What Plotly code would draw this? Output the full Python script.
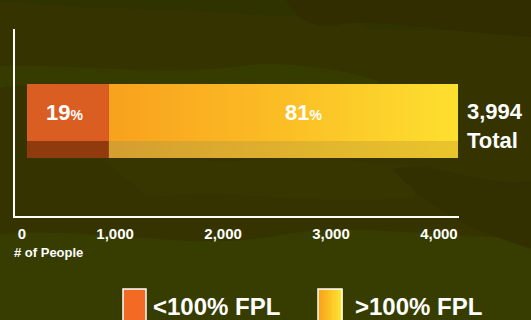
import plotly.graph_objects as go

# ---- data ----
categories = ["<100% FPL", ">100% FPL"]
percents = [19, 81]
total = 3994
values = [round(total * p / 100) for p in percents]  # 759, 3235
x_ticks = [0, 1000, 2000, 3000, 4000]
x_tick_labels = ["0", "1,000", "2,000", "3,000", "4,000"]
axis_title = "# of People"

FONT = "Liberation Sans, Arial, Helvetica, sans-serif"
BG = "#353400"

# plot area in pixels (for paper conversions of decorations)
L, R, T, B = 15, 459, 29, 216
def px(xp):
    return (xp - L) / (R - L)
def py(yp):
    return (B - yp) / (B - T)

BAR_W = 0.4
SHADE_W = 0.092

fig = go.Figure()

# under-100% segment (solid orange)
fig.add_trace(go.Bar(
    y=[0], x=[values[0]], base=[0], orientation="h", width=BAR_W,
    marker=dict(color="#DA5D22", line=dict(width=0)),
    name=categories[0], showlegend=False,
))
fig.add_trace(go.Bar(
    y=[0], x=[values[0]], base=[0], orientation="h", width=SHADE_W,
    offset=-BAR_W / 2,
    marker=dict(color="#8F3B0E", line=dict(width=0)),
    showlegend=False, hoverinfo="skip",
))

# over-100% segment (gradient yellow) drawn as filled polygon from data values
x0 = values[0]
x1 = values[0] + values[1]
fig.add_trace(go.Scatter(
    x=[x0, x1, x1, x0, x0],
    y=[-BAR_W / 2 + SHADE_W, -BAR_W / 2 + SHADE_W, BAR_W / 2, BAR_W / 2, -BAR_W / 2 + SHADE_W],
    mode="lines", line=dict(width=0), fill="toself",
    fillgradient=dict(type="horizontal",
                      colorscale=[[0, "#F8A11D"], [0.5, "#FBBE25"], [1, "#FDE02F"]]),
    name=categories[1], showlegend=False,
))
fig.add_trace(go.Scatter(
    x=[x0, x1, x1, x0, x0],
    y=[-BAR_W / 2, -BAR_W / 2, -BAR_W / 2 + SHADE_W, -BAR_W / 2 + SHADE_W, -BAR_W / 2],
    mode="lines", line=dict(width=0), fill="toself",
    fillgradient=dict(type="horizontal",
                      colorscale=[[0, "#D49E30"], [1, "#EAC42C"]]),
    showlegend=False, hoverinfo="skip",
))

annotations = []
# percent labels
shifts = [-3, 20]
bases = [0, values[0]]
for p, v, b, s in zip(percents, values, bases, shifts):
    annotations.append(dict(
        x=b + v / 2, y=0, xref="x", yref="y", xshift=s, yshift=8,
        text=f"<b>{p}<span style='font-size:14px'>%</span></b>",
        showarrow=False, font=dict(family=FONT, size=22, color="white"),
    ))
# total label
annotations.append(dict(
    x=total, y=0, xref="x", yref="y", xanchor="left", xshift=7, yshift=-5,
    text=f"<b>{total:,}<br>Total</b>", align="left",
    showarrow=False, font=dict(family=FONT, size=22, color="white"),
))
# axis title
annotations.append(dict(
    x=px(12), y=py(253), xref="paper", yref="paper", xanchor="left", yanchor="middle",
    text=f"<b>{axis_title}</b>", showarrow=False,
    font=dict(family=FONT, size=13, color="white"),
))
# legend texts
annotations.append(dict(
    x=px(151), y=py(306), xref="paper", yref="paper", xanchor="left", yanchor="middle",
    text=f"<b>{categories[0]}</b>", showarrow=False,
    font=dict(family=FONT, size=24, color="white"),
))
annotations.append(dict(
    x=px(353), y=py(306), xref="paper", yref="paper", xanchor="left", yanchor="middle",
    text=f"<b>{categories[1]}</b>", showarrow=False,
    font=dict(family=FONT, size=24, color="white"),
))

shapes = []
# camouflage background blobs (subtle)
blobs = [
    ("#2F3300", "M -0.05 1.16 C 0.1 1.1 0.3 1.12 0.5 1.08 C 0.6 1.06 0.75 1.1 0.8 1.0 L 1.2 0.98 L 1.2 1.2 L -0.05 1.2 Z"),
    ("#312D00", "M 0.6 1.2 C 0.62 1.1 0.65 1.0 0.72 1.02 C 0.8 1.06 0.9 1.0 1.2 0.95 L 1.2 1.2 Z"),
    ("#363B00", "M -0.05 0.8 C 0.15 0.82 0.3 0.74 0.5 0.8 C 0.6 0.84 0.75 0.78 0.82 0.72 L 0.82 0.62 C 0.6 0.66 0.4 0.6 0.2 0.7 C 0.1 0.72 0 0.7 -0.05 0.68 Z"),
    ("#383600", "M 0.2 0.3 C 0.3 0.35 0.45 0.25 0.6 0.32 C 0.7 0.35 0.78 0.25 0.9 0.28 L 0.9 0.1 C 0.7 0.05 0.5 0.15 0.3 0.1 Z"),
    ("#373D00", "M -0.05 -0.1 C 0.2 -0.05 0.4 -0.2 0.6 -0.1 C 0.8 -0.02 1.0 -0.15 1.2 -0.1 L 1.2 -0.6 L -0.05 -0.6 Z"),
    ("#322F00", "M 0.85 0.25 C 0.95 0.32 1.05 0.12 1.2 0.2 L 1.2 -0.2 C 1.05 -0.1 0.95 0.0 0.85 0.25 Z"),
]
for col, path in blobs:
    shapes.append(dict(type="path", xref="paper", yref="paper", path=path,
                       fillcolor=col, line=dict(width=0), layer="below"))

# legend swatches
sw_top, sw_bot = py(289), py(330)
shapes.append(dict(type="rect", xref="paper", yref="paper",
                   x0=px(123), x1=px(146), y0=sw_bot, y1=sw_top,
                   fillcolor="#F26A24", line=dict(color="white", width=1.5)))
n = 12
c0, c1 = (249, 161, 27), (253, 228, 48)
for i in range(n):
    t = i / (n - 1)
    col = "rgb({},{},{})".format(*[round(a + (b - a) * t) for a, b in zip(c0, c1)])
    xa = 318 + (342 - 318) * i / n
    xb = 318 + (342 - 318) * (i + 1) / n
    shapes.append(dict(type="rect", xref="paper", yref="paper",
                       x0=px(xa), x1=px(xb + 0.5), y0=sw_bot, y1=sw_top,
                       fillcolor=col, line=dict(width=0)))
shapes.append(dict(type="rect", xref="paper", yref="paper",
                   x0=px(318), x1=px(342), y0=sw_bot, y1=sw_top,
                   fillcolor="rgba(0,0,0,0)", line=dict(color="white", width=1.5)))

fig.update_layout(
    width=531, height=320,
    margin=dict(l=L, r=531 - R, t=T, b=320 - B),
    paper_bgcolor=BG, plot_bgcolor="rgba(0,0,0,0)",
    barmode="overlay", showlegend=False,
    font=dict(family=FONT, color="white"),
    annotations=annotations, shapes=shapes,
    xaxis=dict(
        range=[-111, 4003], tickvals=x_ticks, ticktext=x_tick_labels,
        showgrid=False, zeroline=False, showline=True, linecolor="white", linewidth=2,
        ticks="", ticklabelposition="outside left", ticklabelstandoff=3,
        tickfont=dict(family=FONT, size=15, color="white", weight="bold"),
        fixedrange=True,
    ),
    yaxis=dict(
        range=[-0.514, 0.497], showticklabels=False, showgrid=False, zeroline=False,
        showline=True, linecolor="white", linewidth=2, ticks="", fixedrange=True,
    ),
)

fig.write_html(
    "out.html",
    config={"displayModeBar": False},
    post_script="document.body.style.margin='0';document.body.style.overflow='hidden';",
)
